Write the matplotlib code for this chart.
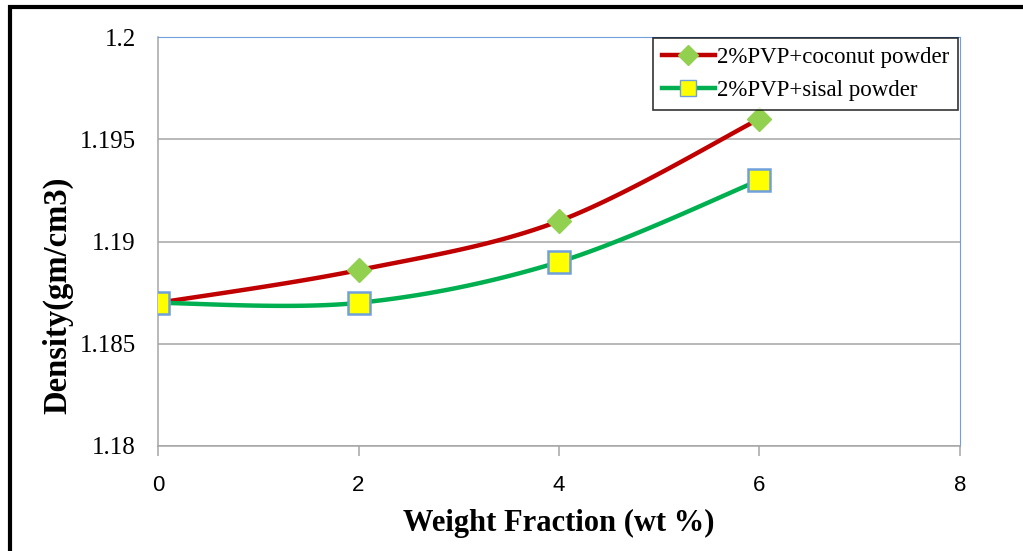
import numpy as np
import matplotlib.pyplot as plt
from matplotlib.patches import Rectangle
from matplotlib.font_manager import FontProperties

# data
wt_fraction = [0, 2, 4, 6]
coconut_density = [1.187, 1.1886, 1.191, 1.196]
sisal_density = [1.187, 1.187, 1.189, 1.193]
x_ticks = [0, 2, 4, 6, 8]
y_ticks = [1.18, 1.185, 1.19, 1.195, 1.2]
y_tick_labels = ['1.18', '1.185', '1.19', '1.195', '1.2']


def excel_smooth(xs, ys, n=40):
    """Excel-like smoothed line: cubic Bezier through points (Catmull-Rom controls)"""
    p = np.column_stack([xs, ys]).astype(float)
    out = []
    for i in range(len(p) - 1):
        p0 = p[i - 1] if i > 0 else p[i]
        p1, p2 = p[i], p[i + 1]
        p3 = p[i + 2] if i + 2 < len(p) else p[i + 1]
        c1 = p1 + (p2 - p0) / 6.0
        c2 = p2 - (p3 - p1) / 6.0
        t = np.linspace(0, 1, n)[:, None]
        seg = ((1 - t) ** 3) * p1 + 3 * ((1 - t) ** 2) * t * c1 + 3 * (1 - t) * t ** 2 * c2 + t ** 3 * p2
        out.append(seg if i == 0 else seg[1:])
    seg = np.vstack(out)
    return seg[:, 0], seg[:, 1]


fig = plt.figure(figsize=(10.23, 5.51), dpi=100)
ax = fig.add_axes([158 / 1023, 1 - 446 / 551, (960 - 158) / 1023, (446 - 37) / 551])

red = '#C00000'
green = '#00B050'
diamond = '#92D050'

sx, sy = excel_smooth(wt_fraction, coconut_density)
ax.plot(sx, sy, color=red, lw=3.2, zorder=3, solid_capstyle='round')
sx, sy = excel_smooth(wt_fraction, sisal_density)
ax.plot(sx, sy, color=green, lw=3.2, zorder=3, solid_capstyle='round')

ax.plot(wt_fraction, coconut_density, ls='none', marker='D', ms=12.5, color=diamond,
        mec=diamond, zorder=4)
ax.plot(wt_fraction, sisal_density, ls='none', marker='s', ms=15.5, color='#FFFF00',
        mec='#6FA0DC', mew=1.8, zorder=5)

# legend proxies
ax.plot([], [], color=red, lw=3.2, marker='D', ms=10, mfc=diamond, mec=diamond,
        label='2%PVP+coconut powder')
ax.plot([], [], color=green, lw=3.2, marker='s', ms=11, mfc='#FFFF00', mec='#6FA0DC',
        label='2%PVP+sisal powder')
leg = ax.legend(loc='upper right', bbox_to_anchor=(0.998, 0.998), frameon=True, fancybox=False,
                edgecolor='black', handlelength=2.3, handletextpad=0.1, borderpad=0.4,
                borderaxespad=0.0, labelspacing=0.5,
                prop={'family': 'Liberation Serif', 'size': 16.5})
leg.get_frame().set_linewidth(1.2)
leg.set_zorder(10)

ax.set_xlim(0, 8)
ax.set_ylim(1.18, 1.2)
ax.grid(axis='y', color='#A6A6A6', lw=1.1)
ax.set_axisbelow(True)

ax.tick_params(axis='y', length=0, pad=16)
ax.tick_params(axis='x', length=7, color='#A6A6A6', width=1.1, pad=14)

ax.set_xticks(x_ticks)
ax.set_xticklabels([str(v) for v in x_ticks],
                   fontproperties=FontProperties(family='Liberation Sans', size=16))
ax.set_yticks(y_ticks)
ax.set_yticklabels(y_tick_labels,
                   fontproperties=FontProperties(family='Liberation Serif', size=18))

ax.spines['left'].set_color('#A6A6A6')
ax.spines['bottom'].set_color('#A6A6A6')
ax.spines['left'].set_linewidth(1.1)
ax.spines['bottom'].set_linewidth(1.1)
ax.spines['top'].set_color('#6FA0DC')
ax.spines['right'].set_color('#6FA0DC')

ax.set_xlabel('Weight Fraction (wt %)', family='Liberation Serif', weight='bold',
              fontsize=22, labelpad=9)
ax.set_ylabel('Density(gm/cm3)', family='Liberation Serif', weight='bold',
              fontsize=23.5)
ax.yaxis.set_label_coords(73 / 1023, 1 - 295 / 551, transform=fig.transFigure)

# black frame around the chart
fig.patches.append(Rectangle((10 / 1023, -0.05), 1.2, 1.05 - 7 / 551, transform=fig.transFigure,
                             fill=False, edgecolor='black', lw=3, zorder=0))

fig.savefig('out.png', dpi=100)
